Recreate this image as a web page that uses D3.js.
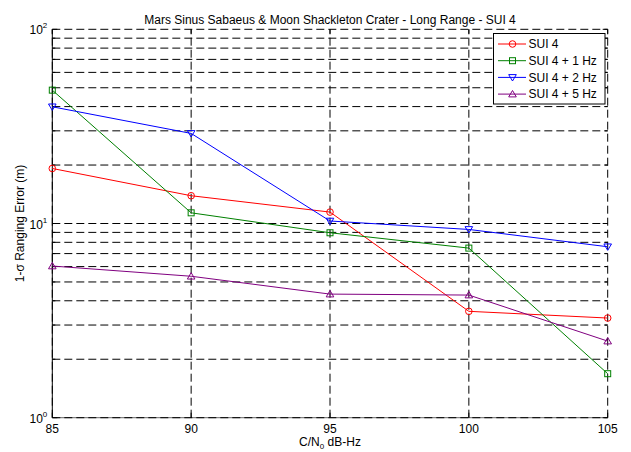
<!DOCTYPE html>
<html lang="en">
<head>
  <meta charset="UTF-8" />
  <title>Mars Sinus Sabaeus & Moon Shackleton Crater - Long Range - SUI 4</title>
  <style>
    body { margin: 0; background: #fff; }
    svg { display: block; font-family: "Liberation Sans", Arial, sans-serif; }
  </style>
</head>
<body>
  <div id="chart"></div>

  <script src="https://d3js.org/d3.v7.min.js"></script>
  <script>
    // values
    const cn0 = [85, 90, 95, 100, 105];
    const sui4 = [19.2, 13.9, 11.45, 3.53, 3.26];
    const sui4_1hz = [48.6, 11.35, 8.96, 7.47, 1.685];
    const sui4_2hz = [39.9, 29.1, 10.3, 9.32, 7.59];
    const sui4_5hz = [6.04, 5.35, 4.33, 4.28, 2.48];
    const xTicks = [85, 90, 95, 100, 105];
    const yDecades = [1, 10, 100];

    const series = [
      { name: "SUI 4", values: sui4, color: "#ff0000", marker: "circle" },
      { name: "SUI 4 + 1 Hz", values: sui4_1hz, color: "#008000", marker: "square" },
      { name: "SUI 4 + 2 Hz", values: sui4_2hz, color: "#0000ff", marker: "down" },
      { name: "SUI 4 + 5 Hz", values: sui4_5hz, color: "#800080", marker: "up" },
    ];

    const W = 631, H = 452;
    const m = { left: 52.3, right: 23.3, top: 29.3, bottom: 34.3 };

    const svg = d3.select("#chart").append("svg")
      .attr("width", W).attr("height", H);

    const x = d3.scaleLinear().domain([85, 105]).range([m.left, W - m.right]);
    const y = d3.scaleLog().domain([1, 100]).range([H - m.bottom, m.top]);

    const x0 = x.range()[0], x1 = x.range()[1];
    const y0 = y.range()[0], y1 = y.range()[1];
    const yAll = y.ticks(); // 1..9, 10..90, 100

    // dashed grid
    const grid = svg.append("g").attr("stroke", "#000").attr("stroke-width", 1)
      .attr("stroke-dasharray", "8,4").attr("fill", "none");
    grid.selectAll("line.h").data(yAll).enter().append("line")
      .attr("x1", x0).attr("x2", x1)
      .attr("y1", d => y(d)).attr("y2", d => y(d));
    grid.selectAll("line.v").data(xTicks).enter().append("line")
      .attr("x1", d => x(d)).attr("x2", d => x(d))
      .attr("y1", y0).attr("y2", y1);

    // axis lines (left solid, bottom lighter)
    svg.append("line").attr("x1", x0).attr("x2", x0).attr("y1", y0).attr("y2", y1)
      .attr("stroke", "#000");
    svg.append("line").attr("x1", x0).attr("x2", x1).attr("y1", y0).attr("y2", y0)
      .attr("stroke", "#000").attr("stroke-opacity", 0.6);

    // inward ticks on all four sides
    const ticks = svg.append("g").attr("stroke", "#000").attr("stroke-width", 1);
    xTicks.forEach(t => {
      ticks.append("line").attr("x1", x(t)).attr("x2", x(t)).attr("y1", y0).attr("y2", y0 - 5);
      ticks.append("line").attr("x1", x(t)).attr("x2", x(t)).attr("y1", y1).attr("y2", y1 + 5);
    });
    yAll.forEach(t => {
      const len = yDecades.includes(t) ? 5 : 3;
      ticks.append("line").attr("x1", x0).attr("x2", x0 + len).attr("y1", y(t)).attr("y2", y(t));
      ticks.append("line").attr("x1", x1).attr("x2", x1 - len).attr("y1", y(t)).attr("y2", y(t));
    });

    // x tick labels
    svg.append("g").selectAll("text").data(xTicks).enter().append("text")
      .attr("x", d => x(d)).attr("y", y0 + 15)
      .attr("text-anchor", "middle").attr("font-size", 12)
      .text(d => d);

    // y tick labels 10^n
    const yl = svg.append("g").selectAll("text").data(yDecades).enter().append("text")
      .attr("x", x0 - 5).attr("y", d => y(d) + 5)
      .attr("text-anchor", "end").attr("font-size", 12);
    yl.append("tspan").text("10");
    yl.append("tspan").attr("dy", -6).attr("font-size", 8).text(d => Math.round(Math.log10(d)));

    // title
    svg.append("text").attr("x", (x0 + x1) / 2).attr("y", 24)
      .attr("text-anchor", "middle").attr("font-size", 12)
      .text("Mars Sinus Sabaeus & Moon Shackleton Crater - Long Range - SUI 4");

    // x label
    const xl = svg.append("text").attr("x", (x0 + x1) / 2).attr("y", y0 + 28)
      .attr("text-anchor", "middle").attr("font-size", 12);
    xl.append("tspan").text("C/N");
    xl.append("tspan").attr("dy", 3).attr("font-size", 8).text("0");
    xl.append("tspan").attr("dy", -3).text(" dB-Hz");

    // y label
    svg.append("text")
      .attr("transform", `translate(24,${(y0 + y1) / 2}) rotate(-90)`)
      .attr("text-anchor", "middle").attr("font-size", 12)
      .text("1-\u03c3 Ranging Error (m)");

    function drawMarker(g, type, cx, cy, color) {
      if (type === "circle") {
        g.append("circle").attr("cx", cx).attr("cy", cy).attr("r", 3.3)
          .attr("fill", "none").attr("stroke", color);
      } else if (type === "square") {
        g.append("rect").attr("x", cx - 3).attr("y", cy - 3).attr("width", 6).attr("height", 6)
          .attr("fill", "none").attr("stroke", color);
      } else {
        const s = type === "down" ? 1 : -1;
        const pts = [[cx - 3.8, cy - 2.8 * s], [cx + 3.8, cy - 2.8 * s], [cx, cy + 3.6 * s]];
        g.append("polygon").attr("points", pts.map(p => p.join(",")).join(" "))
          .attr("fill", "none").attr("stroke", color);
      }
    }

    const line = d3.line().x(d => x(d[0])).y(d => y(d[1]));

    series.forEach(s => {
      const pts = cn0.map((c, i) => [c, s.values[i]]);
      const g = svg.append("g");
      g.append("path").attr("d", line(pts))
        .attr("fill", "none").attr("stroke", s.color).attr("stroke-width", 1);
      pts.forEach(p => drawMarker(g, s.marker, x(p[0]), y(p[1]), s.color));
    });

    // legend
    const lg = svg.append("g").attr("transform", "translate(493.5,33.5)");
    lg.append("rect").attr("width", 111.5).attr("height", 70.5)
      .attr("fill", "#fff").attr("stroke", "#000");
    series.forEach((s, i) => {
      const ly = 10.5 + i * 16.7;
      lg.append("line").attr("x1", 4.5).attr("x2", 32.5).attr("y1", ly).attr("y2", ly)
        .attr("stroke", s.color);
      drawMarker(lg, s.marker, 19, ly, s.color);
      lg.append("text").attr("x", 35).attr("y", ly + 4.3).attr("font-size", 12).text(s.name);
    });
  </script>
</body>
</html>
